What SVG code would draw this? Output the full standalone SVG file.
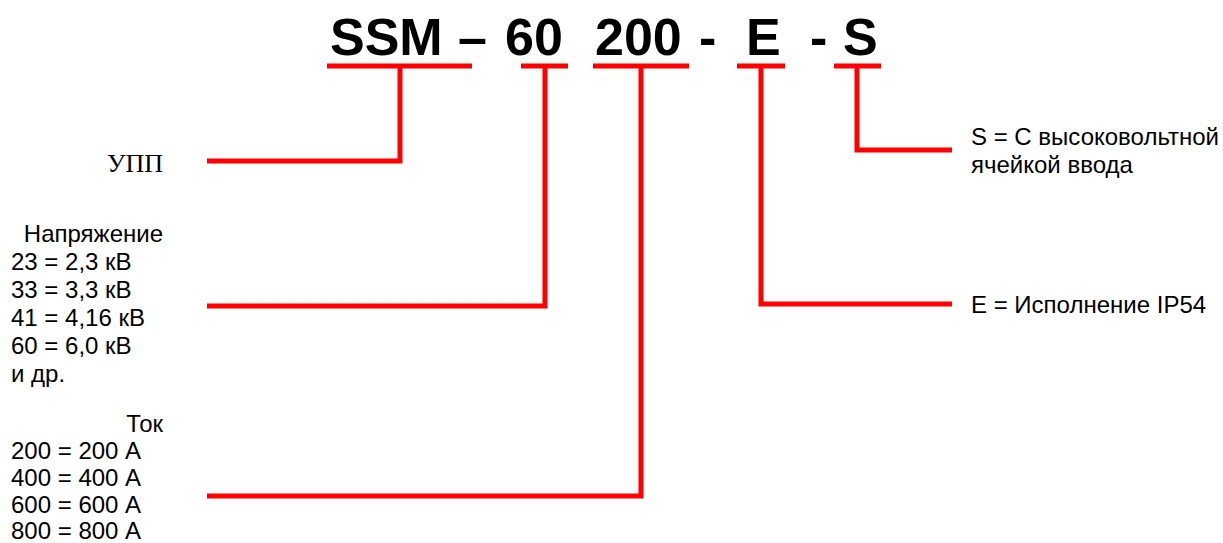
<svg xmlns="http://www.w3.org/2000/svg" width="1223" height="543" viewBox="0 0 1223 543">
<style>
.code{font-family:"Liberation Sans",Arial,sans-serif;font-weight:bold;font-size:52px;fill:#000}
.lbl{font-family:"Liberation Sans",Arial,sans-serif;font-size:24px;fill:#000}
.ser{font-family:"Liberation Serif","Times New Roman",serif;font-size:26px;fill:#000}
.ln{stroke:#ff0000;stroke-width:5;fill:none;stroke-linejoin:miter}
</style>
<rect width="1223" height="543" fill="#fff"/>
<g id="code">
<text class="code" x="330" y="55">SSM</text>
<text class="code" x="458" y="55">–</text>
<text class="code" x="505" y="55">60</text>
<text class="code" x="595" y="55">200</text>
<text class="code" x="699" y="55">-</text>
<text class="code" x="746" y="55">E</text>
<text class="code" x="810" y="55">-</text>
<text class="code" x="843" y="55">S</text>
</g>
<g id="connectors">
<line class="ln" x1="327" y1="66" x2="472" y2="66"/>
<line class="ln" x1="521" y1="66" x2="568" y2="66"/>
<line class="ln" x1="593" y1="66" x2="689" y2="66"/>
<line class="ln" x1="737" y1="66" x2="785" y2="66"/>
<line class="ln" x1="834" y1="66" x2="881" y2="66"/>
<polyline class="ln" points="400,66 400,161 207,161"/>
<polyline class="ln" points="545,66 545,306 207,306"/>
<polyline class="ln" points="641,66 641,496 207,496"/>
<polyline class="ln" points="761,66 761,304 952,304"/>
<polyline class="ln" points="857,66 857,150 952,150"/>
</g>
<g id="node-upp">
<text class="ser" x="163" y="172" text-anchor="end">УПП</text>
</g>
<g id="node-voltage">
<text class="lbl" x="163" y="242" text-anchor="end">Напряжение</text>
<text class="lbl" x="11" y="270">23 = 2,3 кВ</text>
<text class="lbl" x="11" y="298">33 = 3,3 кВ</text>
<text class="lbl" x="11" y="326">41 = 4,16 кВ</text>
<text class="lbl" x="11" y="354">60 = 6,0 кВ</text>
<text class="lbl" x="11" y="382">и др.</text>
</g>
<g id="node-current">
<text class="lbl" x="163" y="432" text-anchor="end">Ток</text>
<text class="lbl" x="11" y="459">200 = 200 А</text>
<text class="lbl" x="11" y="486">400 = 400 А</text>
<text class="lbl" x="11" y="513">600 = 600 А</text>
<text class="lbl" x="11" y="539">800 = 800 А</text>
</g>
<g id="node-s">
<text class="lbl" x="971" y="145">S = С высоковольтной</text>
<text class="lbl" x="971" y="173">ячейкой ввода</text>
</g>
<g id="node-e">
<text class="lbl" x="971" y="313">E = Исполнение IP54</text>
</g>
</svg>
